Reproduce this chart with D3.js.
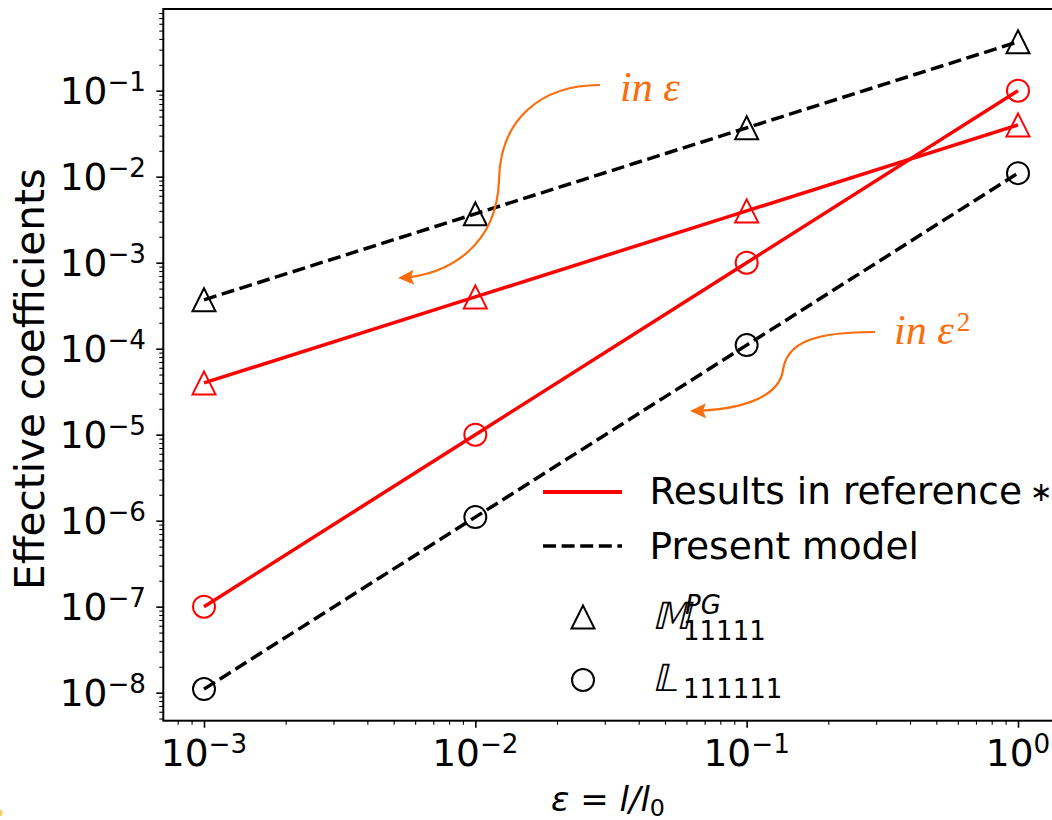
<!DOCTYPE html>
<html>
<head>
<meta charset="utf-8">
<script src="https://cdn.jsdelivr.net/npm/d3@7"></script>
<style>
  html, body { margin: 0; padding: 0; background: #fff; }
  svg { display: block; font-family: "DejaVu Sans", sans-serif; }
</style>
</head>
<body>
<svg id="chart" width="1052" height="820"></svg>
<script>
// Scale parameter eps = l / l0
const eps = [1e-3, 1e-2, 1e-1, 1e0];

// Results in reference (solid red)
const refM = [4e-5, 4e-4, 4e-3, 4e-2];      // M^PG_11111
const refL = [1e-7, 1e-5, 1e-3, 1e-1];      // L_111111

// Present model (dashed black)
const presM = [3.7e-4, 3.7e-3, 3.7e-2, 3.7e-1];
const presL = [1.1e-8, 1.1e-6, 1.1e-4, 1.1e-2];

// Axis ticks: decade values and their exponent labels
const xTickValues = [1e-3, 1e-2, 1e-1, 1e0];
const xTickExps = ["\u22123", "\u22122", "\u22121", "0"];
const yTickValues = [1e-8, 1e-7, 1e-6, 1e-5, 1e-4, 1e-3, 1e-2, 1e-1];
const yTickExps = ["\u22128", "\u22127", "\u22126", "\u22125", "\u22124", "\u22123", "\u22122", "\u22121"];

const legendLineLabels = ["Results in reference", "Present model"];

const svg = d3.select("#chart");

const frame = { left: 163.3, right: 1058.7, top: 9, bottom: 720.7 };

const x = d3.scaleLog()
  .domain([Math.pow(10, -3.15), Math.pow(10, 0.15)])
  .range([frame.left, frame.right]);
const y = d3.scaleLog()
  .domain([Math.pow(10, -8.326), Math.pow(10, -0.05)])
  .range([frame.bottom, frame.top]);

// minor ticks at 2..9 x 10^k inside each domain
function minorTicks(scale) {
  const [a, b] = scale.domain();
  const out = [];
  for (let k = Math.floor(Math.log10(a)); k <= Math.ceil(Math.log10(b)); k++) {
    for (let m = 2; m <= 9; m++) {
      const v = m * Math.pow(10, k);
      if (v >= a && v <= b) out.push(v);
    }
  }
  return out;
}

// ---- axes ----
const gx = svg.append("g").attr("transform", `translate(0,${frame.bottom})`);
gx.call(d3.axisBottom(x).tickValues(xTickValues).tickSize(7).tickFormat(""));
const gxm = svg.append("g").attr("transform", `translate(0,${frame.bottom})`);
gxm.call(d3.axisBottom(x).tickValues(minorTicks(x)).tickSize(4).tickFormat(""));

const gy = svg.append("g").attr("transform", `translate(${frame.left},0)`);
gy.call(d3.axisLeft(y).tickValues(yTickValues).tickSize(7).tickFormat(""));
const gym = svg.append("g").attr("transform", `translate(${frame.left},0)`);
gym.call(d3.axisLeft(y).tickValues(minorTicks(y)).tickSize(4).tickFormat(""));

[gx, gy].forEach(g => g.selectAll(".tick line").attr("stroke", "#000").attr("stroke-width", 1.6));
[gxm, gym].forEach(g => g.selectAll(".tick line").attr("stroke", "#000").attr("stroke-width", 1.1));
[gx, gxm, gy, gym].forEach(g => g.select(".domain").remove());

// frame
svg.append("rect")
  .attr("x", frame.left).attr("y", frame.top)
  .attr("width", frame.right - frame.left).attr("height", frame.bottom - frame.top)
  .attr("fill", "none").attr("stroke", "#000").attr("stroke-width", 2);

// tick labels of the form 10^k
function powerLabel(g, px, py, exp, anchor) {
  const t = g.append("text")
    .attr("x", px).attr("y", py)
    .attr("text-anchor", anchor)
    .attr("font-size", 37.5)
    .attr("fill", "#000");
  t.append("tspan").text("10");
  t.append("tspan").attr("font-size", 26.2).attr("dy", -13).text(exp);
  return t;
}
const xLabels = svg.append("g");
xTickValues.forEach((v, i) => powerLabel(xLabels, x(v), 765.5, xTickExps[i], "middle"));
const yLabels = svg.append("g");
yTickValues.forEach((v, i) => powerLabel(yLabels, 146, y(v) + 13.6, yTickExps[i], "end"));

// axis titles
const xt = svg.append("text")
  .attr("x", (frame.left + frame.right) / 2 - 3).attr("y", 810.5)
  .attr("text-anchor", "middle").attr("font-size", 34).attr("fill", "#000");
xt.append("tspan").attr("font-style", "italic").text("\u03b5");
xt.append("tspan").text(" = ");
xt.append("tspan").attr("font-style", "italic").text("l/l");
xt.append("tspan").attr("font-size", 23.8).attr("dy", 5).text("0");

svg.append("text")
  .attr("transform", `translate(44,379) rotate(-90)`)
  .attr("text-anchor", "middle").attr("font-size", 40.5).attr("fill", "#000")
  .text("Effective coefficients");

// ---- data series ----
const plot = svg.append("g");
const line = d3.line().x(d => x(d[0])).y(d => y(d[1]));

function triPath(cx, cy, h) {
  return `M${cx},${cy - h}L${cx - h},${cy + h}L${cx + h},${cy + h}Z`;
}

const series = [
  { vals: refM, color: "#ff0000", dash: null, marker: "tri" },
  { vals: refL, color: "#ff0000", dash: null, marker: "circ" },
  { vals: presM, color: "#000000", dash: "13,5.6", marker: "tri" },
  { vals: presL, color: "#000000", dash: "13,5.6", marker: "circ" }
];

series.forEach(s => {
  const pts = eps.map((e, i) => [e, s.vals[i]]);
  plot.append("path")
    .attr("d", line(pts))
    .attr("fill", "none")
    .attr("stroke", s.color)
    .attr("stroke-width", 3.5)
    .attr("stroke-dasharray", s.dash);
  pts.forEach(p => {
    if (s.marker === "tri") {
      plot.append("path")
        .attr("d", triPath(x(p[0]), y(p[1]), 11.5))
        .attr("fill", "none").attr("stroke", s.color).attr("stroke-width", 2);
    } else {
      plot.append("circle")
        .attr("cx", x(p[0])).attr("cy", y(p[1])).attr("r", 11)
        .attr("fill", "none").attr("stroke", s.color).attr("stroke-width", 2);
    }
  });
});

// ---- legend ----
const lg = svg.append("g");
lg.append("line").attr("x1", 543).attr("x2", 622).attr("y1", 492).attr("y2", 492)
  .attr("stroke", "#ff0000").attr("stroke-width", 3.8);
lg.append("line").attr("x1", 543).attr("x2", 622).attr("y1", 546).attr("y2", 546)
  .attr("stroke", "#000").attr("stroke-width", 3.5).attr("stroke-dasharray", "13,5.6");
const l1 = lg.append("text").attr("x", 649.5).attr("y", 504).attr("font-size", 37.5);
l1.append("tspan").text(legendLineLabels[0]);
l1.append("tspan").attr("font-size", 27).attr("dx", 8).attr("dy", -3).text("\u2217");
lg.append("text").attr("x", 649.5).attr("y", 559).attr("font-size", 37.5).text(legendLineLabels[1]);

lg.append("path").attr("d", triPath(583, 617, 11.5))
  .attr("fill", "none").attr("stroke", "#000").attr("stroke-width", 2);
lg.append("circle").attr("cx", 583).attr("cy", 680).attr("r", 11)
  .attr("fill", "none").attr("stroke", "#000").attr("stroke-width", 2);

// slanted double-struck symbols with their indices
lg.append("text").attr("transform", "translate(652,629) skewX(-14)")
  .attr("font-size", 37.5).text("\ud835\udd44");
const m = lg.append("text").attr("font-size", 26);
m.append("tspan").attr("x", 685).attr("y", 614).attr("font-style", "italic").text("PG");
m.append("tspan").attr("x", 683).attr("y", 640).text("11111");
lg.append("text").attr("transform", "translate(652,690.5) skewX(-14)")
  .attr("font-size", 37.5).text("\ud835\udd43");
lg.append("text").attr("x", 683).attr("y", 697.5).attr("font-size", 26).text("111111");

// ---- order annotations ----
const orange = "#f96d0c";
const defs = svg.append("defs");
defs.append("marker")
  .attr("id", "arrowHead")
  .attr("viewBox", "0 0 16 16")
  .attr("refX", 14).attr("refY", 8)
  .attr("markerWidth", 16).attr("markerHeight", 16)
  .attr("markerUnits", "userSpaceOnUse")
  .attr("orient", "auto")
  .append("path").attr("d", "M0,0.5L16,8L0,15.5L3,8Z").attr("fill", orange);

const ann = svg.append("g");
ann.append("path")
  .attr("d", "M600,85 C540,85 500,120 499,180 C497,245 450,275 400,278")
  .attr("fill", "none").attr("stroke", orange).attr("stroke-width", 2.2)
  .attr("marker-end", "url(#arrowHead)");
ann.append("path")
  .attr("d", "M875,332 C815,332 787,342 783,370 C779,398 740,410 692,411")
  .attr("fill", "none").attr("stroke", orange).attr("stroke-width", 2.2)
  .attr("marker-end", "url(#arrowHead)");

ann.append("text").attr("x", 620).attr("y", 100.5)
  .attr("font-family", "'Liberation Serif', serif").attr("font-style", "italic")
  .attr("font-size", 42).attr("fill", orange).text("in \u03b5");
const t2 = ann.append("text").attr("x", 894).attr("y", 344)
  .attr("font-family", "'Liberation Serif', serif").attr("font-style", "italic")
  .attr("font-size", 42).attr("fill", orange);
t2.append("tspan").text("in \u03b5");
t2.append("tspan").attr("font-style", "normal").attr("font-size", 27).attr("dy", -13).attr("dx", 3).text("2");

// small yellow speck at the lower-left corner
svg.append("circle").attr("cx", -1).attr("cy", 813).attr("r", 3.5).attr("fill", "#f2c12e").attr("opacity", 0.8);
</script>
</body>
</html>
